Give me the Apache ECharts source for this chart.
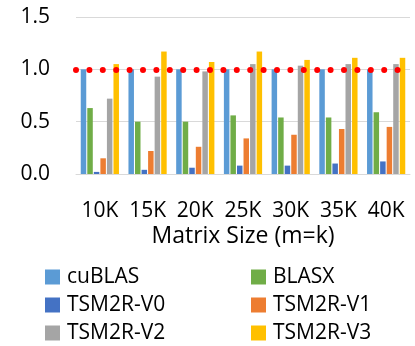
<!DOCTYPE html>
<html>
<head>
<meta charset="utf-8">
<script src="https://cdn.jsdelivr.net/npm/echarts@6/dist/echarts.min.js"></script>
<style>
  html, body { margin: 0; padding: 0; background: #fff; }
  #main { width: 415px; height: 346px; }
</style>
</head>
<body>
<div id="main"></div>
<script>
// matrix sizes (m=k)
var sizes = ['10K', '15K', '20K', '25K', '30K', '35K', '40K'];
var yTicks = [0, 0.5, 1.0, 1.5];
var baseline = [1.0];

// speedup normalized to cuBLAS
var cuBLAS    = [1.0, 1.0, 1.0, 1.0, 1.0, 1.0, 1.0];
var BLASX     = [0.63, 0.50, 0.50, 0.56, 0.54, 0.54, 0.59];
var tsm2rV0   = [0.02, 0.04, 0.06, 0.08, 0.08, 0.10, 0.12];
var tsm2rV1   = [0.15, 0.22, 0.26, 0.34, 0.375, 0.43, 0.45];
var tsm2rV2   = [0.72, 0.93, 0.98, 1.05, 1.035, 1.05, 1.05];
var tsm2rV3   = [1.05, 1.17, 1.07, 1.17, 1.09, 1.11, 1.11];

var FONT = 'Open Sans';
var FS = 21;
var chart = echarts.init(document.getElementById('main'));

function bar(name, data, color) {
  return {
    name: name,
    type: 'bar',
    data: data,
    barWidth: 5.5,
    barGap: '19%',
    itemStyle: { color: color }
  };
}

var series = [
  bar('cuBLAS', cuBLAS, '#5B9BD5'),
  bar('BLASX', BLASX, '#70AD47'),
  bar('TSM2R-V0', tsm2rV0, '#4472C4'),
  bar('TSM2R-V1', tsm2rV1, '#ED7D31'),
  bar('TSM2R-V2', tsm2rV2, '#A5A5A5'),
  bar('TSM2R-V3', tsm2rV3, '#FFC000')
];
// red dotted reference line at 1.0
series[5].markLine = {
  silent: true,
  symbol: 'none',
  label: { show: false },
  animation: false,
  lineStyle: { color: '#FF0000', width: 6, type: [0, 13.4], cap: 'round', opacity: 1 },
  data: baseline.map(function (v) { return { yAxis: v }; })
};

var legendText = { fontFamily: FONT, fontSize: FS, lineHeight: 22, color: '#000', padding: [0, 0, 0, 2] };

var option = {
  animation: false,
  grid: { left: 76, right: 5, top: 17, bottom: 172 },
  legend: [{
    data: ['cuBLAS', 'TSM2R-V0', 'TSM2R-V2'],
    orient: 'vertical',
    left: 40, top: 261, height: 90,
    itemWidth: 15, itemHeight: 15, itemGap: 6,
    icon: 'rect',
    textStyle: legendText
  }, {
    data: ['BLASX', 'TSM2R-V1', 'TSM2R-V3'],
    orient: 'vertical',
    left: 246, top: 261, height: 90,
    itemWidth: 15, itemHeight: 15, itemGap: 6,
    icon: 'rect',
    textStyle: legendText
  }],
  xAxis: {
    type: 'category',
    data: sizes,
    name: 'Matrix Size (m=k)',
    nameLocation: 'middle',
    nameGap: 51,
    nameTextStyle: { fontFamily: FONT, fontSize: 23, color: '#000' },
    axisTick: { show: false },
    axisLine: { lineStyle: { color: '#D9D9D9', width: 1 } },
    axisLabel: { fontFamily: FONT, fontSize: FS, color: '#000', margin: 27, interval: 0, hideOverlap: false }
  },
  yAxis: {
    type: 'value',
    min: yTicks[0],
    max: yTicks[yTicks.length - 1],
    interval: 0.5,
    axisLine: { show: false },
    axisTick: { show: false },
    splitLine: { lineStyle: { color: '#D9D9D9', width: 1 } },
    axisLabel: {
      fontFamily: FONT, fontSize: FS, color: '#000', margin: 26,
      formatter: function (v) { return v.toFixed(1); }
    }
  },
  series: series
};

chart.setOption(option);
</script>
</body>
</html>
